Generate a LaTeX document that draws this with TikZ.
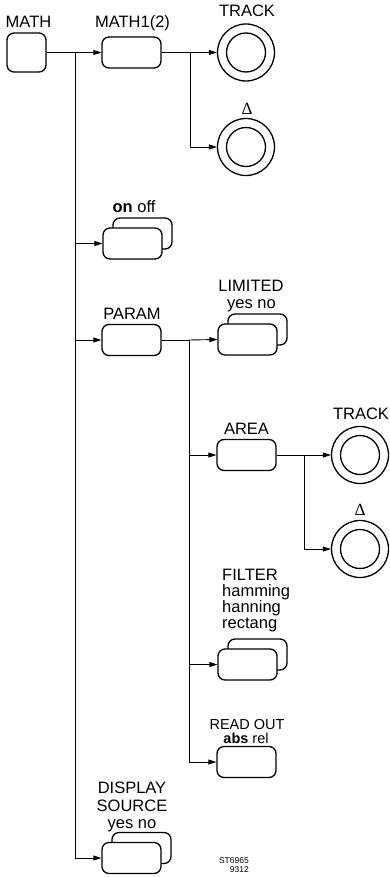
\documentclass[tikz,border=0pt]{standalone}
\usepackage{fontspec}
\setmainfont{Liberation Sans}
\newfontfamily\deltafont{Liberation Serif}
\usetikzlibrary{arrows.meta}
\begin{document}
\begin{tikzpicture}[x=1pt,y=-1pt,
  box/.style={draw, line width=1.3pt, rounded corners=7pt, minimum width=59pt, minimum height=31pt, inner sep=0pt, fill=white},
  squarebox/.style={box, minimum width=39pt, minimum height=39pt},
  ring/.style={draw, circle, line width=1.3pt, minimum size=57pt, inner sep=0pt},
  innerring/.style={draw, circle, line width=1.3pt, minimum size=39pt, inner sep=0pt},
  conn/.style={line width=0.9pt},
  arr/.style={conn, -{Triangle[length=8pt,width=5pt]}},
  lbl/.style={anchor=base, inner sep=0pt, font=\fontsize{16.5}{17}\selectfont},
  slbl/.style={anchor=base, inner sep=0pt, font=\fontsize{14.5}{15}\selectfont},
  dlbl/.style={anchor=base, inner sep=0pt, font=\fontsize{17}{17}\deltafont},
  tiny/.style={anchor=base east, inner sep=0pt, font=\fontsize{8.5}{9}\selectfont}
]
\useasboundingbox (0,0) rectangle (390,877);

% boxes
\node[squarebox] (math) at (26.5,52.5) {};
\node[box] (m1) at (131.5,52.5) {};
\node[ring] (t1) at (246,52.5) {};
\node[innerring] (t1i) at (t1.center) {};
\node[ring] (d1) at (246,147) {};
\node[innerring] (d1i) at (d1.center) {};

\node[box] (onb) at (142.5,233.5) {};
\node[box] (onf) at (132.5,243.5) {};

\node[box] (param) at (131.5,340) {};
\node[box] (limb) at (257.5,329.5) {};
\node[box] (limf) at (247.5,339.5) {};

\node[box] (area) at (246.5,455) {};
\node[ring] (t2) at (360,455) {};
\node[innerring] (t2i) at (t2.center) {};
\node[ring] (d2) at (360,549) {};
\node[innerring] (d2i) at (d2.center) {};

\node[box] (filb) at (257.5,654.5) {};
\node[box] (filf) at (247.5,664.5) {};

\node[box] (rd) at (246.5,762) {};

\node[box] (dispb) at (141.5,848) {};
\node[box] (dispf) at (131.5,858) {};

% labels
\node[lbl] (lmath) at (28.5,28) {MATH};
\node[lbl] (lm1) at (132.5,28) {MATH1(2)};
\node[lbl] (lt1) at (247,17) {TRACK};
\node[dlbl] (ld1) at (247,115) {Δ};
\node[lbl] (lon) at (134,213) {\textbf{on} off};
\node[lbl] (lparam) at (132,319) {PARAM};
\node[lbl] (llim) at (251,291) {LIMITED};
\node[lbl] (llimyn) at (251.5,308) {yes no};
\node[lbl] (larea) at (246.5,434) {AREA};
\node[lbl] (lt2) at (361,419) {TRACK};
\node[dlbl] (ld2) at (360,515) {Δ};
\node[lbl, anchor=base west] (lfil) at (222,580) {FILTER};
\node[lbl, anchor=base west] (lham) at (222,596) {hamming};
\node[lbl, anchor=base west] (lhan) at (222,612) {hanning};
\node[lbl, anchor=base west] (lrec) at (222,628) {rectang};
\node[slbl] (lrd) at (247,729) {READ OUT};
\node[slbl] (lrdab) at (246,743) {\textbf{abs} rel};
\node[lbl] (ldisp) at (132,793) {DISPLAY};
\node[lbl] (lsrc) at (132,811) {SOURCE};
\node[lbl] (ldispyn) at (132,828) {yes no};
\node[tiny] (st) at (249,863) {ST6965};
\node[tiny] (stn) at (249,872) {9312};

% connectors
\coordinate (j1) at (75,52.5);
\coordinate (j2) at (190,52.5);
\coordinate (j3) at (189,340);
\coordinate (j4) at (304,455);

\draw[conn] (math.east) -- (j1);
\draw[arr] (j1) -- (m1.west);
\draw[arr] (j1) |- (onf.west);
\draw[arr] (j1) |- (param.west);
\draw[arr] (j1) |- (dispf.west);

\draw[conn] (m1.east) -- (j2);
\draw[arr] (j2) -- (t1.west);
\draw[arr] (j2) |- (d1.west);

\draw[conn] (param.east) -- (j3);
\draw[arr] (j3) -- (limf.west);
\draw[arr] (j3) |- (area.west);
\draw[arr] (j3) |- (filf.west);
\draw[arr] (j3) |- (rd.west);

\draw[conn] (area.east) -- (j4);
\draw[arr] (j4) -- (t2.west);
\draw[arr] (j4) |- (d2.west);
\end{tikzpicture}
\end{document}
